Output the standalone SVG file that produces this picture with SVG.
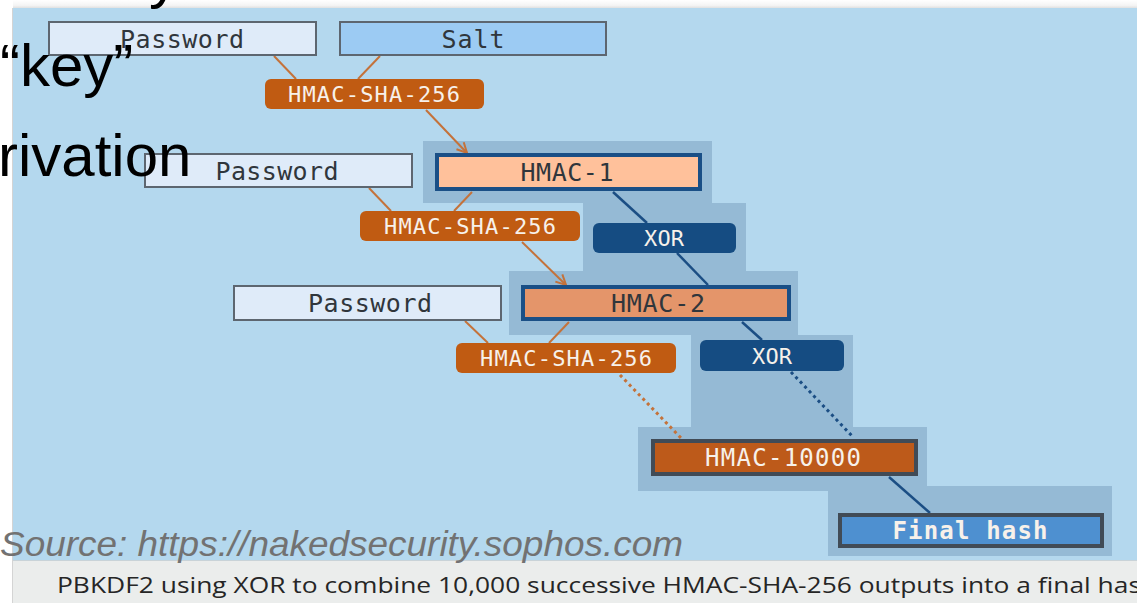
<svg xmlns="http://www.w3.org/2000/svg" width="1137" height="603" viewBox="0 0 1137 603">
  <defs>
    <linearGradient id="topShade" x1="0" y1="0" x2="0" y2="1">
      <stop offset="0" stop-color="#ffffff"/>
      <stop offset="0.6" stop-color="#f4f4f4"/>
      <stop offset="1" stop-color="#d8d8d8"/>
    </linearGradient>
    <marker id="arrowOrange" viewBox="0 0 12 12" refX="11" refY="6" markerWidth="12" markerHeight="12" markerUnits="userSpaceOnUse" orient="auto">
      <path d="M1,1 L11,6 L1,11" fill="none" stroke="#c4723a" stroke-width="2"/>
    </marker>
  </defs>
  <style>
    .box-input { fill: #dfebf9; stroke: #5d6670; stroke-width: 2; }
    .box-salt { fill: #9ccbf3; stroke: #5d6670; stroke-width: 2; }
    .box-hmac { fill: #c05b12; }
    .box-xor { fill: #154c82; }
    .box-out1 { fill: #ffc19b; stroke: #1a4f86; stroke-width: 4; }
    .box-out2 { fill: #e4956a; stroke: #1a4f86; stroke-width: 4; }
    .box-last { fill: #bd5a1a; stroke: #414b56; stroke-width: 4; }
    .box-final { fill: #4e90d0; stroke: #414b56; stroke-width: 4; }
    .mono { font-family: "DejaVu Sans Mono", "Liberation Mono", monospace; text-anchor: middle; }
    .dark { fill: #30363c; font-size: 25px; }
    .light { fill: #f7f1ea; font-size: 22px; }
    .light-big { fill: #f7f1ea; font-size: 24px; }
    .link-o { stroke: #c4723a; stroke-width: 2; fill: none; }
    .link-b { stroke: #1b4e84; stroke-width: 2.5; fill: none; }
    .dot-o { stroke: #c4723a; stroke-width: 3; stroke-dasharray: 3 3.5; fill: none; }
    .dot-b { stroke: #1b4e84; stroke-width: 3; stroke-dasharray: 3 3.5; fill: none; }
    .slide { font-family: "Liberation Sans", Arial, sans-serif; fill: #000000; font-size: 60px; }
  </style>

  <!-- page and frame -->
  <rect x="0" y="0" width="1137" height="603" fill="#ffffff"/>
  <rect x="13" y="0" width="1124" height="9" fill="url(#topShade)"/>
  <rect x="12" y="8" width="1" height="595" fill="#d4d4d4"/>
  <rect x="13" y="8" width="1124" height="552" fill="#b4d8ee"/>

  <!-- caption strip -->
  <rect x="13" y="560" width="1124" height="43" fill="#ebedec"/>
  <rect x="13" y="560" width="1124" height="1" fill="#c9d3d8"/>
  <text x="57" y="593" font-family="'Open Sans', 'Noto Sans', sans-serif" font-size="22.5" fill="#262626" textLength="1084" lengthAdjust="spacingAndGlyphs">PBKDF2 using XOR to combine 10,000 successive HMAC-SHA-256 outputs into a final has</text>

  <!-- shaded band behind the iteration chain -->
  <path d="M423,141 H712 V203 H746 V271 H798 V335 H853 V427 H927 V486 H1112 V556 H828 V491 H638 V427 H691 V335 H509 V271 H583 V203 H423 Z" fill="#95bad5"/>

  <!-- connectors -->
  <g id="connectors">
    <line class="link-o" x1="274" y1="56" x2="296" y2="79"/>
    <line class="link-o" x1="380" y1="56" x2="358" y2="79"/>
    <line class="link-o" x1="426" y1="110" x2="467" y2="153" marker-end="url(#arrowOrange)"/>
    <line class="link-o" x1="369" y1="188" x2="391" y2="211"/>
    <line class="link-o" x1="472" y1="192" x2="454" y2="211"/>
    <line class="link-o" x1="522" y1="242" x2="566" y2="285" marker-end="url(#arrowOrange)"/>
    <line class="link-o" x1="465" y1="321" x2="488" y2="343"/>
    <line class="link-o" x1="569" y1="322" x2="549" y2="343"/>
    <line class="link-b" x1="613" y1="192" x2="647" y2="223"/>
    <line class="link-b" x1="677" y1="253" x2="708" y2="285"/>
    <line class="link-b" x1="742" y1="322" x2="762" y2="340"/>
    <line class="dot-o" x1="620" y1="375" x2="682" y2="439"/>
    <line class="dot-b" x1="791" y1="372" x2="853" y2="437"/>
    <line class="link-b" x1="889" y1="477" x2="930" y2="513"/>
  </g>

  <!-- nodes -->
  <g id="password-1">
    <rect class="box-input" x="49" y="22" width="267" height="33"/>
    <text class="mono dark" x="182" y="47.5" textLength="124">Password</text>
  </g>
  <g id="salt">
    <rect class="box-salt" x="340" y="22" width="266" height="33"/>
    <text class="mono dark" x="473" y="47.5" textLength="63">Salt</text>
  </g>
  <g id="hmac-sha-256-1">
    <rect class="box-hmac" x="265" y="79" width="219" height="30" rx="6"/>
    <text class="mono light" x="374" y="102" textLength="172">HMAC-SHA-256</text>
  </g>
  <g id="password-2">
    <rect class="box-input" x="145" y="154" width="267" height="33"/>
    <text class="mono dark" x="277" y="179.5" textLength="123">Password</text>
  </g>
  <g id="hmac-1">
    <rect class="box-out1" x="437" y="155" width="263" height="34"/>
    <text class="mono dark" x="567" y="181" textLength="93">HMAC-1</text>
  </g>
  <g id="hmac-sha-256-2">
    <rect class="box-hmac" x="360" y="211" width="220" height="30" rx="6"/>
    <text class="mono light" x="470" y="234" textLength="172">HMAC-SHA-256</text>
  </g>
  <g id="xor-1">
    <rect class="box-xor" x="593" y="223" width="143" height="30" rx="6"/>
    <text class="mono light" x="664" y="246" textLength="40">XOR</text>
  </g>
  <g id="password-3">
    <rect class="box-input" x="234" y="286" width="267" height="34"/>
    <text class="mono dark" x="370" y="312" textLength="124">Password</text>
  </g>
  <g id="hmac-2">
    <rect class="box-out2" x="523" y="287" width="266" height="32"/>
    <text class="mono dark" x="658" y="312" textLength="94">HMAC-2</text>
  </g>
  <g id="hmac-sha-256-3">
    <rect class="box-hmac" x="456" y="343" width="220" height="30" rx="6"/>
    <text class="mono light" x="566" y="366" textLength="172">HMAC-SHA-256</text>
  </g>
  <g id="xor-2">
    <rect class="box-xor" x="700" y="340" width="144" height="31" rx="6"/>
    <text class="mono light" x="772" y="363.5" textLength="40">XOR</text>
  </g>
  <g id="hmac-10000">
    <rect class="box-last" x="653" y="441" width="263" height="33"/>
    <text class="mono light-big" x="783" y="466" textLength="156">HMAC-10000</text>
  </g>
  <g id="final-hash">
    <rect class="box-final" x="840" y="515" width="262" height="31"/>
    <text class="mono light-big" x="970" y="539" font-weight="bold" textLength="155">Final hash</text>
  </g>

  <!-- slide lettering laid over the figure -->
  <text class="slide" x="149" y="-3">y</text>
  <text class="slide" x="0" y="86">“key”</text>
  <text class="slide" x="-2" y="176">rivation</text>
  <text x="0" y="556" font-family="'Liberation Sans', Arial, sans-serif" font-style="italic" font-size="35" fill="#727272" textLength="683" lengthAdjust="spacingAndGlyphs">Source: https://nakedsecurity.sophos.com</text>
</svg>
